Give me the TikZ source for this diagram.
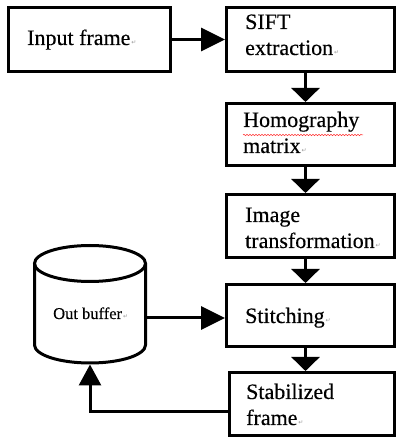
\documentclass[tikz,border=0pt]{standalone}
\usepackage{fontspec}
\setmainfont{Liberation Serif}[FakeBold=0.35]
\newfontfamily\markfont{DejaVu Sans}
\usetikzlibrary{arrows.meta,decorations.pathmorphing}
% paragraph mark after each label
\newcommand{\retmark}{\rlap{{\markfont\fontsize{6}{6}\selectfont\color{gray!80}\,↵}}}
\tikzset{
  stepbox/.style={draw, line width=3pt, rectangle, inner sep=0pt},
  % anchored at the baseline of the last line
  steptext/.style={anchor=base west, inner sep=0pt, align=left,
    font=\fontsize{22}{26}\selectfont},
  flow/.style={line width=3pt},
  vhead/.style={-{Triangle[width=28pt,length=14pt]}},
  hhead/.style={-{Triangle[width=23pt,length=24pt]}},
}
\begin{document}
\begin{tikzpicture}[x=1pt,y=1pt]
\useasboundingbox (0,0) rectangle (398,439);

% processing chain: frames
\node[stepbox, minimum width=162pt, minimum height=64pt] (inp) at (89.5,399.5) {};
\node[stepbox, minimum width=168pt, minimum height=64pt] (sift) at (310.5,399.5) {};
\node[stepbox, minimum width=168pt, minimum height=62pt] (homo) at (310.5,304.5) {};
\node[stepbox, minimum width=168pt, minimum height=63pt] (img) at (310.5,213) {};
\node[stepbox, minimum width=168pt, minimum height=62pt] (stit) at (310.5,123.5) {};
\node[stepbox, minimum width=165pt, minimum height=63pt] (stab) at (312,35) {};

% processing chain: labels
\node[steptext] (inpt) at (27,394) {Input frame\retmark};
\node[steptext] (siftt) at (245,384) {SIFT\\extraction\retmark};
\node[steptext] (homot) at (243,286) {Homography\\matrix\retmark};
\node[steptext] (imgt) at (245,191) {Image\\transformation\retmark};
\node[steptext] (stitt) at (245,116) {Stitching\retmark};
\node[steptext] (stabt) at (246,14) {Stabilized\\frame\retmark};

% spell-check underline
\draw[red!80, line width=0.5pt, decorate,
  decoration={snake, amplitude=0.7pt, segment length=3pt}] (243,304) -- (363,304);

% out buffer cylinder
\node[minimum width=111pt, minimum height=50pt, inner sep=0pt] (buf) at (90,121) {};
\node[steptext, font=\fontsize{16.5}{20}\selectfont] (buft) at (53,120) {Out buffer\retmark};
\draw[line width=3pt] (90,175.5) ellipse [x radius=55.5, y radius=18];
\draw[line width=3pt] (34.5,175.5) -- (34.5,94)
  arc [start angle=180, end angle=360, x radius=55.5, y radius=18]
  -- (145.5,175.5);
\coordinate (bufbot) at (90,74.5);

% connectors
\draw[flow, hhead] (inp.east) -- (sift.west);
\draw[flow, vhead] ([xshift=-5pt]sift.south) -- ([xshift=-5pt]homo.north);
\draw[flow, vhead] ([xshift=-5pt]homo.south) -- ([xshift=-5pt]img.north);
\draw[flow, vhead] ([xshift=-5pt]img.south) -- ([xshift=-5pt]stit.north);
\draw[flow, vhead] ([xshift=-5pt]stit.south) -- ([xshift=-6.5pt]stab.north);
\draw[flow, hhead] (buf.east) -- (buf.east -| stit.west);
\draw[flow, -{Triangle[width=22pt,length=21pt]}] ([yshift=-8pt]stab.west) -| (bufbot);
\end{tikzpicture}
\end{document}
